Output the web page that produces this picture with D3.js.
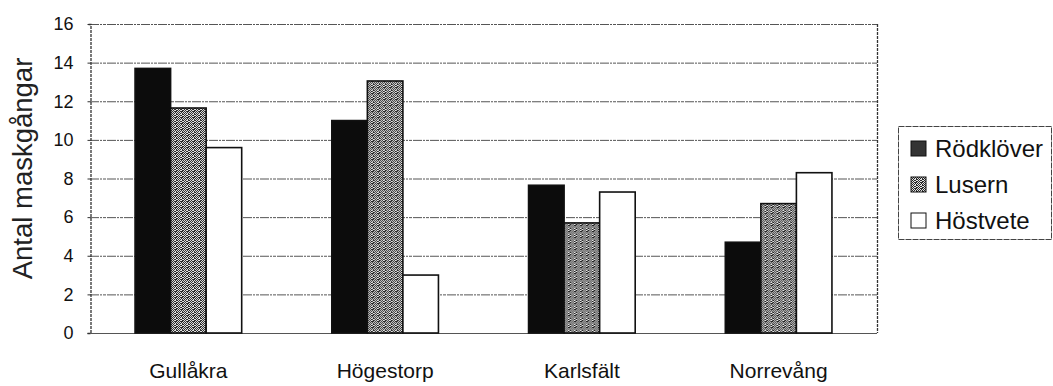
<!DOCTYPE html>
<html>
<head>
<meta charset="utf-8">
<script src="https://cdn.jsdelivr.net/npm/d3@7"></script>
<style>
  html, body { margin: 0; padding: 0; background: #fff; }
  svg { display: block; font-family: "Liberation Sans", Arial, Helvetica, sans-serif; }
</style>
</head>
<body>
<svg id="chart" width="1053" height="386"></svg>
<script>
// Worm burrows (antal maskgångar) per site and crop
const sites = ["Gullåkra", "Högestorp", "Karlsfält", "Norrevång"];
const crops = ["Rödklöver", "Lusern", "Höstvete"];
const rodklover = [13.7, 11.0, 7.65, 4.7];
const lusern = [11.65, 13.05, 5.7, 6.7];
const hostvete = [9.6, 3.0, 7.3, 8.3];
const yTicks = [0, 2, 4, 6, 8, 10, 12, 14, 16];
const yLabel = "Antal maskgångar";

const seriesValues = [rodklover, lusern, hostvete];

const svg = d3.select("#chart");
const plot = { left: 90, right: 877, top: 24, bottom: 333 };

// Stippled grey fill for Lusern
const defs = svg.append("defs");
const pat = defs.append("pattern")
  .attr("id", "stipple").attr("patternUnits", "userSpaceOnUse")
  .attr("width", 6).attr("height", 6);
pat.append("rect").attr("width", 6).attr("height", 6).attr("fill", "#e4e4e4");
[[0,0],[2,0],[5,0],[1,1],[3,1],[4,1],[0,2],[2,2],[5,2],[1,3],[3,3],[4,3],
 [0,4],[2,4],[4,4],[1,5],[3,5],[5,5],[5,3]].forEach(([x, y]) =>
  pat.append("rect").attr("x", x).attr("y", y).attr("width", 1).attr("height", 1).attr("fill", "#262626"));

const fills = ["#0c0c0c", "url(#stipple)", "#ffffff"];

const x0 = d3.scaleBand().domain(sites)
  .range([plot.left, plot.right])
  .paddingInner(0.458).paddingOuter(0.229);
const x1 = d3.scaleBand().domain(crops).range([0, x0.bandwidth()]);
const y = d3.scaleLinear().domain([0, 16]).range([plot.bottom, plot.top]);

// Gridlines
svg.append("g")
  .selectAll("line").data(yTicks.filter(t => t > 0)).join("line")
  .attr("x1", plot.left).attr("x2", plot.right)
  .attr("y1", d => y(d) + 0.5).attr("y2", d => y(d) + 0.5)
  .attr("stroke", "#555").attr("stroke-width", 1)
  .attr("stroke-dasharray", "9,1,2,1,3,1");

// Plot frame right side
svg.append("line").attr("x1", plot.right + 0.5).attr("x2", plot.right + 0.5)
  .attr("y1", plot.top).attr("y2", plot.bottom)
  .attr("stroke", "#333").attr("stroke-width", 1.3).attr("stroke-dasharray", "3,1");

// Y axis
const yAxis = d3.axisLeft(y).tickValues(yTicks).tickSize(3).tickPadding(14);
const gy = svg.append("g").attr("transform", `translate(${plot.left + 0.5},0)`).call(yAxis);
gy.select(".domain").attr("stroke", "#333").attr("stroke-width", 1.3).attr("stroke-dasharray", "3,1");
gy.selectAll(".tick line").attr("stroke", "#333");
gy.selectAll(".tick text").attr("font-size", 18).attr("fill", "#111")
  .attr("font-family", "'Liberation Sans', Arial, sans-serif");

// Baseline
svg.append("line").attr("x1", plot.left).attr("x2", plot.right)
  .attr("y1", y(0) + 0.5).attr("y2", y(0) + 0.5)
  .attr("stroke", "#555").attr("stroke-width", 1.2);

// Bars
const groups = svg.append("g").selectAll("g").data(sites).join("g")
  .attr("transform", d => `translate(${x0(d)},0)`);
groups.selectAll("rect")
  .data((site, i) => crops.map((c, j) => ({ crop: c, j, value: seriesValues[j][i] })))
  .join("rect")
  .attr("x", d => x1(d.crop))
  .attr("y", d => y(d.value))
  .attr("width", x1.bandwidth())
  .attr("height", d => y(0) - y(d.value))
  .attr("fill", d => fills[d.j])
  .attr("stroke", "#111").attr("stroke-width", 1.6);

// Category labels
const gx = svg.append("g").attr("transform", `translate(0,${plot.bottom})`)
  .call(d3.axisBottom(x0).tickSize(0).tickPadding(30));
gx.select(".domain").remove();
gx.selectAll(".tick text").attr("font-size", 21).attr("fill", "#111")
  .attr("font-family", "'Liberation Sans', Arial, sans-serif");

// Y axis title
svg.append("text")
  .attr("transform", `translate(32,${(plot.top + plot.bottom) / 2 - 10}) rotate(-90)`)
  .attr("text-anchor", "middle")
  .attr("font-size", 27.5).attr("fill", "#222")
  .text(yLabel);

// Legend
const legend = svg.append("g").attr("transform", "translate(898,126)");
legend.append("rect").attr("x", 0.5).attr("y", 0.5).attr("width", 153).attr("height", 113)
  .attr("fill", "#fff").attr("stroke", "#444").attr("stroke-width", 1).attr("stroke-dasharray", "6,1");
const items = legend.selectAll("g").data(crops).join("g")
  .attr("transform", (d, i) => `translate(13,${23 + i * 36})`);
items.append("rect").attr("x", 0).attr("y", -8).attr("width", 15).attr("height", 15)
  .attr("fill", (d, i) => i === 0 ? "#333" : fills[i]).attr("stroke", "#111").attr("stroke-width", 1);
items.append("text").attr("x", 24).attr("y", 8)
  .attr("font-size", 24).attr("fill", "#111").text(d => d);
</script>
</body>
</html>
